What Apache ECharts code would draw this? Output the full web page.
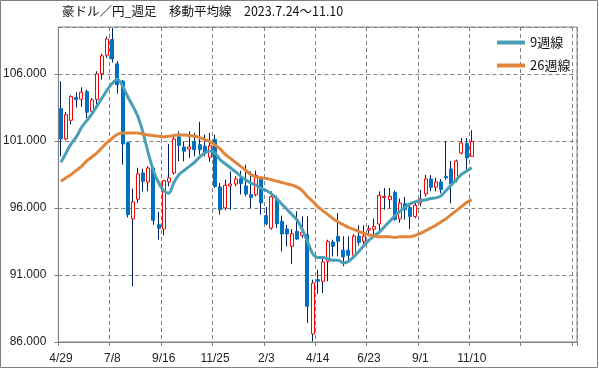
<!DOCTYPE html>
<html>
<head>
<meta charset="utf-8">
<script src="https://cdn.jsdelivr.net/npm/echarts@6/dist/echarts.min.js"></script>
<style>
html,body{margin:0;padding:0;background:#fff;}
#chart{width:599px;height:369px;}
</style>
</head>
<body>
<div id="chart"></div>
<script>
// Weekly categories (Fridays). Data runs 4/29 .. 11/10; the rest is empty future space.
const categories = [
  '4/29','5/6','5/13','5/20','5/27','6/3','6/10','6/17','6/24','7/1',
  '7/8','7/15','7/22','7/29','8/5','8/12','8/19','8/26','9/2','9/9',
  '9/16','9/23','9/30','10/7','10/14','10/21','10/28','11/4','11/11','11/18',
  '11/25','12/2','12/9','12/16','12/23','12/30','1/6','1/13','1/20','1/27',
  '2/3','2/10','2/17','2/24','3/3','3/10','3/17','3/24','3/31','4/7',
  '4/14','4/21','4/28','5/5','5/12','5/19','5/26','6/2','6/9','6/16',
  '6/23','6/30','7/7','7/14','7/21','7/28','8/4','8/11','8/18','8/25',
  '9/1','9/8','9/15','9/22','9/29','10/6','10/13','10/20','10/27','11/3',
  '11/10','11/17','11/24','12/1','12/8','12/15','12/22','12/29','1/5','1/12',
  '1/19','1/26','2/2','2/9','2/16','2/23','3/1','3/8','3/15','3/22','3/29'
];

const openV = [
  103.41,101.15,102.54,104.25,104.11,104.68,103.21,104.10,106.02,107.40,
  108.56,106.75,105.45,100.87,95.18,96.65,98.61,97.94,98.98,94.75,
  94.43,97.94,98.61,101.30,100.55,100.39,100.97,100.72,100.60,99.78,
  101.10,97.56,96.00,97.64,97.79,98.19,97.64,97.00,96.99,98.19,
  95.43,94.50,96.62,95.00,94.43,93.14,94.25,93.96,94.01,86.60,
  90.65,90.53,92.02,93.46,93.88,92.85,92.85,92.47,93.90,93.51,
  94.35,94.42,94.80,96.78,96.62,97.17,95.18,96.32,96.03,95.37,
  96.37,97.05,98.16,97.55,97.94,98.36,98.91,98.06,100.10,100.82,
  99.85
];
const highV = [
  105.45,103.16,104.41,104.63,105.00,104.83,104.20,106.20,107.50,108.80,
  109.43,106.94,105.55,100.95,97.44,99.00,98.93,99.11,99.00,95.70,
  98.10,100.77,101.47,101.72,100.97,101.72,101.60,102.42,101.47,101.60,
  101.47,97.86,98.11,98.73,98.36,98.78,99.23,98.73,98.78,98.25,
  96.07,97.24,96.91,95.43,94.75,94.43,95.75,95.38,95.38,90.65,
  91.40,92.20,93.63,93.63,95.62,93.88,93.88,94.04,94.71,94.71,
  94.71,95.21,97.24,97.49,97.49,97.30,96.70,96.82,96.25,96.37,
  97.36,98.48,98.45,98.25,98.16,100.99,99.50,99.60,101.22,101.22,
  101.80
];
const lowV = [
  99.85,101.05,102.22,103.49,103.53,102.71,102.90,103.71,105.57,107.19,
  106.85,104.53,99.23,95.30,90.15,96.37,97.24,97.24,94.75,93.63,
  93.96,97.61,98.49,99.48,99.48,99.73,99.85,99.98,99.85,99.43,
  97.49,95.50,95.83,95.87,97.61,97.00,96.87,96.00,96.87,95.50,
  94.70,94.38,94.50,92.76,93.13,91.82,93.63,93.76,87.42,86.05,
  89.60,89.65,90.53,92.39,92.39,91.65,91.90,92.35,93.20,93.20,
  93.88,93.88,94.26,95.87,95.99,95.05,94.90,95.13,94.43,95.25,
  96.12,96.85,97.24,97.24,97.10,98.10,96.35,97.90,100.00,98.86,
  99.80
];
const closeV = [
  101.15,102.96,104.31,104.08,104.63,103.14,104.06,106.00,107.35,108.61,
  107.12,105.20,100.77,95.50,96.45,98.55,97.99,98.98,95.08,94.48,
  98.04,98.24,101.15,100.67,100.23,100.55,100.35,100.35,100.10,100.65,
  97.61,95.87,97.69,97.79,98.16,97.81,97.04,96.79,98.43,96.37,
  94.82,96.84,94.82,94.06,94.06,94.08,93.68,94.20,88.66,90.40,
  90.53,91.97,93.51,93.14,93.51,92.35,92.47,93.90,93.43,93.90,
  94.45,94.62,96.94,96.86,96.87,95.15,96.37,95.87,95.37,96.20,
  96.67,98.16,97.54,97.94,97.38,98.24,97.79,99.50,100.85,99.73,
  100.97
];
// Moving averages
const ma9 = [
  99.4,100.1,100.8,101.3,102.0,102.5,103.0,103.6,104.2,104.8,
  105.3,105.6,105.1,104.3,103.6,102.8,101.6,100.1,98.8,97.9,
  97.3,97.1,97.9,98.5,98.8,99.1,99.4,99.8,100.1,100.25,
  100.1,99.6,99.3,99.0,98.7,98.36,98.1,97.86,97.7,97.45,
  97.3,97.05,96.7,96.3,95.9,95.5,95.1,94.4,93.5,92.6,
  92.3,92.3,92.2,92.1,92.1,91.9,92.0,92.35,92.75,93.2,
  93.6,93.9,94.2,94.6,95.0,95.4,95.75,96.05,96.3,96.45,
  96.55,96.6,96.7,96.75,96.9,97.3,97.7,98.1,98.5,98.75,
  99.0
];
const ma26 = [
  98.0,98.25,98.5,98.8,99.1,99.5,99.8,100.1,100.5,100.9,
  101.2,101.5,101.6,101.6,101.6,101.6,101.5,101.45,101.4,101.35,
  101.3,101.35,101.4,101.45,101.45,101.4,101.35,101.25,101.1,100.95,
  100.7,100.4,100.0,99.7,99.4,99.1,98.8,98.5,98.3,98.25,
  98.2,98.1,98.0,97.9,97.8,97.7,97.55,97.3,96.85,96.5,
  96.1,95.8,95.5,95.2,94.95,94.75,94.55,94.4,94.25,94.1,
  94.0,93.9,93.85,93.85,93.85,93.8,93.85,93.85,93.85,93.95,
  94.1,94.3,94.5,94.7,94.95,95.2,95.5,95.8,96.1,96.4,
  96.6
];
const seriesNames = ['9週線','26週線'];
const titleText = '豪ドル／円_週足　移動平均線　2023.7.24～11.10';

const nData = openV.length;
const candleFull = openV.map((o, i) => [o, closeV[i], lowV[i], highV[i]]);
const candleBody = openV.map((o, i) => [o, closeV[i], Math.min(o, closeV[i]), Math.max(o, closeV[i])]);

const chart = echarts.init(document.getElementById('chart'), null, {renderer: 'canvas'});
const gray = '#808080';
const font = '"Liberation Sans", Arial, sans-serif';
chart.setOption({
  animation: false,
  backgroundColor: '#ffffff',
  title: {
    text: titleText,
    left: 62, top: 5, padding: 0,
    textStyle: {fontSize: 12.5, fontWeight: 'normal', color: '#111',
      fontFamily: '"Noto Sans CJK JP", sans-serif'}
  },
  legend: {
    data: seriesNames,
    orient: 'vertical',
    left: 497, top: 36, padding: 0,
    itemGap: 10,
    itemWidth: 28, itemHeight: 4,
    icon: 'rect',
    textStyle: {fontSize: 13, color: '#111', fontFamily: '"Noto Sans CJK JP", sans-serif'}
  },
  graphic: [{
    type: 'rect', silent: true, z: 100,
    shape: {x: 0.5, y: 0.5, width: 597, height: 367},
    style: {fill: 'none', stroke: gray, lineWidth: 1}
  }],
  grid: {
    left: 58, right: 22, top: 27, bottom: 27,
    show: true, borderColor: gray, borderWidth: 1, backgroundColor: '#fff'
  },
  xAxis: {
    type: 'category',
    data: categories,
    boundaryGap: true,
    axisLine: {lineStyle: {color: gray}},
    axisTick: {show: true, interval: 9, length: 4, lineStyle: {color: gray}},
    axisLabel: {
      interval: 9, margin: 11, color: '#222', fontSize: 12, fontFamily: font,
      formatter: (v, idx) => (idx < nData ? v : '')
    },
    splitLine: {show: true, interval: 9, lineStyle: {color: gray, type: [4, 3], width: 1}}
  },
  yAxis: {
    type: 'value',
    min: 86, max: 109.5, interval: 5,
    axisLine: {show: true, lineStyle: {color: gray}},
    axisTick: {show: true, length: 4, lineStyle: {color: gray}},
    axisLabel: {
      margin: 12, color: '#222', fontSize: 12, fontFamily: font,
      showMaxLabel: false,
      formatter: v => v.toFixed(3)
    },
    splitLine: {show: true, lineStyle: {color: gray, type: [4, 3], width: 1}}
  },
  series: [
    {
      name: 'wick', type: 'candlestick', data: candleFull,
      barWidth: 1,
      itemStyle: {color: '#002060', color0: '#002060', borderColor: '#002060', borderColor0: '#002060', borderWidth: 1}
    },
    {
      name: 'body', type: 'candlestick', data: candleBody,
      barWidth: 3.5,
      itemStyle: {color: '#ffffff', color0: '#0070C0', borderColor: '#ff0000', borderColor0: '#0070C0', borderWidth: 1}
    },
    {
      name: seriesNames[0], type: 'line', data: ma9,
      showSymbol: false, smooth: 0.3,
      lineStyle: {color: '#4A9FB5', width: 3},
      itemStyle: {color: '#4A9FB5'}
    },
    {
      name: seriesNames[1], type: 'line', data: ma26,
      showSymbol: false, smooth: 0.3,
      lineStyle: {color: '#E0853A', width: 3},
      itemStyle: {color: '#E0853A'}
    }
  ]
});
</script>
</body>
</html>
